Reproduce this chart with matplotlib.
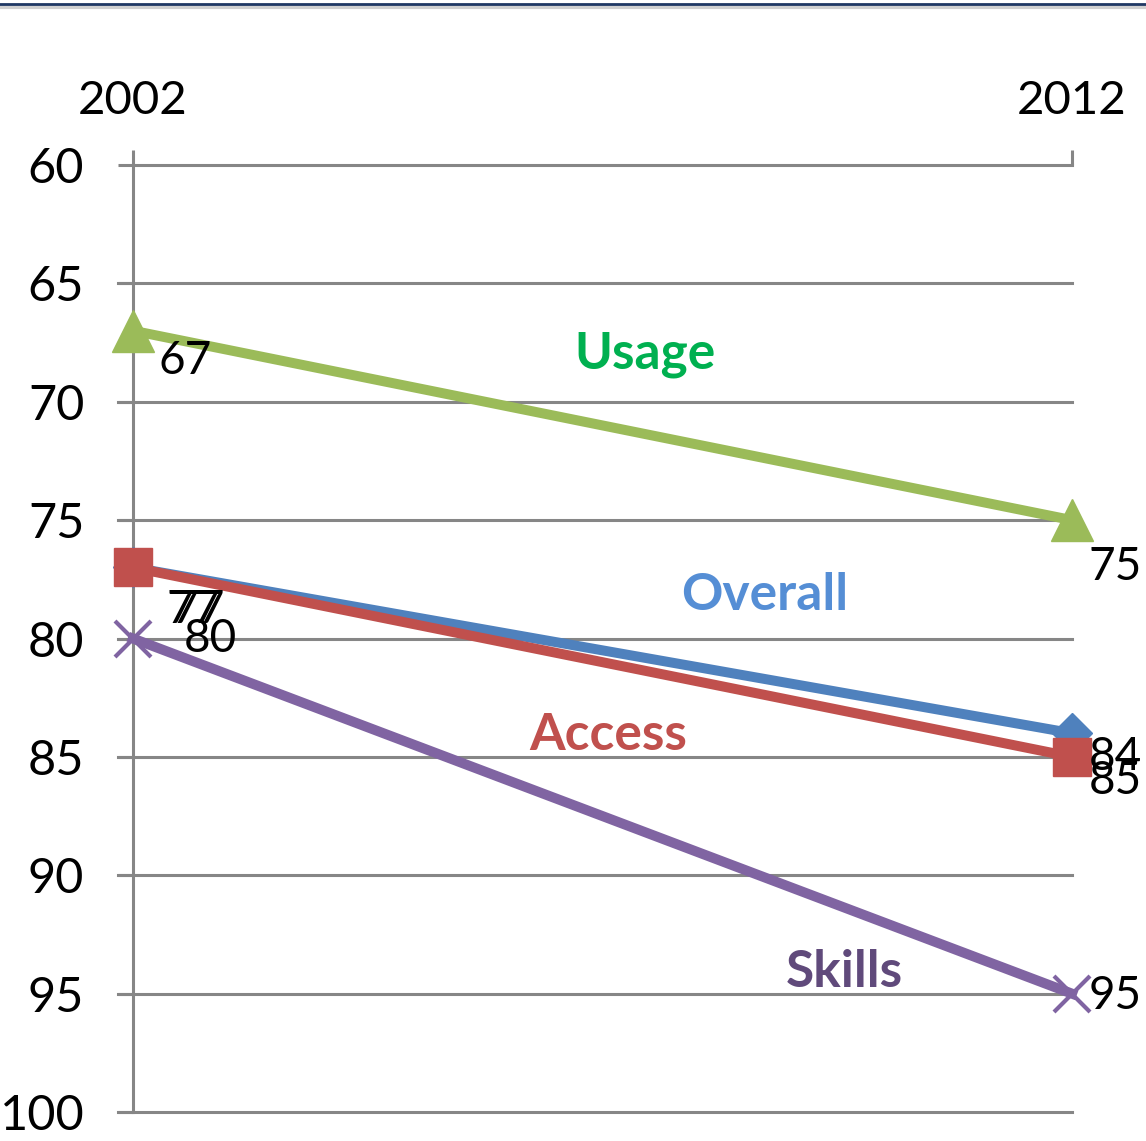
import matplotlib
matplotlib.use("Agg")
import matplotlib.pyplot as plt
from matplotlib.lines import Line2D

# data
years = ["2002", "2012"]
overall = [77, 84]
access = [77, 85]
usage = [67, 75]
skills = [80, 95]
y_ticks = [60, 65, 70, 75, 80, 85, 90, 95, 100]

plt.rcParams['font.family'] = ['Lato', 'DejaVu Sans']

fig = plt.figure(figsize=(11.46, 11.41), dpi=100)
ax = fig.add_axes([0.116, 0.0254, 0.8194, 0.830])

x = [0, 1]
grid_col = '#868686'
for yv in y_ticks[1:]:
    ax.plot([-0.016, 1], [yv, yv], color=grid_col, lw=2.2, zorder=1, clip_on=False)

# series (drawing order as in the original)
ax.plot(x, overall, color='#4F81BD', lw=7.2, marker='D', ms=20, zorder=3, clip_on=False)
ax.plot(x, access, color='#C0504D', lw=7.2, marker='s', ms=27, zorder=4, clip_on=False)
ax.plot(x, usage, color='#9BBB59', lw=7.2, marker='^', ms=30, zorder=5, clip_on=False)
ax.plot(x, skills, color='#8064A2', lw=7.2, marker='x', ms=26, mew=3, zorder=6, clip_on=False)

# data labels (pixel offsets from each point)
labels = [
    (0, usage[0], (52, -30)), (1, usage[1], (43, -47)),
    (0, overall[0], (65, -43)), (0, access[0], (60, -43)),
    (1, overall[1], (43, -24)), (1, access[1], (43, -24)),
    (0, skills[0], (77, 0)), (1, skills[1], (43, -2)),
]
for xi, yv, off in labels:
    ax.annotate(str(yv), (xi, yv), xytext=off, textcoords='offset pixels',
                ha='center', va='center', fontsize=33, color='black', zorder=7,
                annotation_clip=False)

# series names
ax.text(0.545, 68.0, 'Usage', color='#00B050', fontsize=37, fontweight='bold', ha='center', va='center')
ax.text(0.673, 78.2, 'Overall', color='#558ED5', fontsize=37, fontweight='bold', ha='center', va='center')
ax.text(0.506, 84.1, 'Access', color='#C0504D', fontsize=37, fontweight='bold', ha='center', va='center')
ax.text(0.758, 94.1, 'Skills', color='#604A7B', fontsize=37, fontweight='bold', ha='center', va='center')

ax.set_xlim(0, 1)
ax.set_ylim(100, 60)
ax.set_yticks(y_ticks)
ax.set_yticklabels([str(v) for v in y_ticks])
ax.set_xticks(x)
ax.set_xticklabels(years)
ax.xaxis.tick_top()
ax.tick_params(axis='x', length=11, width=2.2, color=grid_col, labelsize=34, pad=20)
ax.tick_params(axis='y', length=11, width=2.2, color=grid_col, labelsize=35, pad=24)

for s in ['right', 'bottom']:
    ax.spines[s].set_visible(False)
ax.spines['top'].set_color(grid_col)
ax.spines['top'].set_linewidth(2.2)
ax.spines['left'].set_color(grid_col)
ax.spines['left'].set_linewidth(2.2)

# top border line
fig.add_artist(Line2D([0, 1], [1 - 7 / 1141, 1 - 7 / 1141], color='#D0D0D0', lw=3, transform=fig.transFigure))
fig.add_artist(Line2D([0, 1], [1 - 4 / 1141, 1 - 4 / 1141], color='#1F3864', lw=2, transform=fig.transFigure))

fig.savefig('out.png', dpi=100)
